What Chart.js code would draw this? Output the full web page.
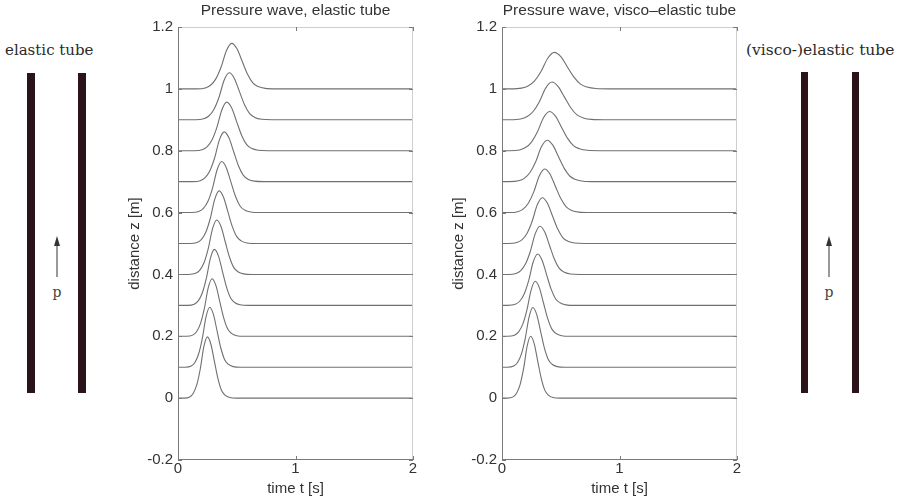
<!DOCTYPE html>
<html>
<head>
<meta charset="utf-8">
<script src="https://cdn.jsdelivr.net/npm/chart.js@4.4.0/dist/chart.umd.min.js"></script>
<style>
    body { margin: 0; background: #fff; }
    #page { position: relative; width: 904px; height: 503px; overflow: hidden; background: #fff; }
    canvas { position: absolute; top: 0; }
    .tubeLabel { position: absolute; font-family: "DejaVu Serif", "Liberation Serif", serif; font-size: 15px; color: #2a2a2a; white-space: nowrap; }
    .bar { position: absolute; background: #2b1419; }
    svg { position: absolute; left: 0; top: 0; }
</style>
</head>
<body>
<div id="page">
    <div class="tubeLabel" style="left:5px; top:41px;">elastic tube</div>
    <div class="bar" style="left:27px; top:73px; width:8px; height:320px;"></div>
    <div class="bar" style="left:78px; top:73px; width:8px; height:320px;"></div>

    <div class="tubeLabel" style="left:746px; top:41px; font-size:15.5px;">(visco-)elastic tube</div>
    <div class="bar" style="left:801px; top:72px; width:7px; height:321px;"></div>
    <div class="bar" style="left:852px; top:72px; width:7px; height:321px;"></div>

    <svg width="904" height="503">
        <line x1="57" y1="244" x2="57" y2="277" stroke="#555" stroke-width="1.2"/>
        <polygon points="57,236 54,246 60,246" fill="#333"/>
        <text x="57" y="297" text-anchor="middle" font-family="DejaVu Serif, serif" font-size="14" fill="#444">p</text>
        <line x1="829" y1="244" x2="829" y2="277" stroke="#555" stroke-width="1.2"/>
        <polygon points="829,236 826,246 832,246" fill="#333"/>
        <text x="829" y="297" text-anchor="middle" font-family="DejaVu Serif, serif" font-size="14" fill="#444">p</text>
    </svg>

    <canvas id="elasticChart" width="296" height="503" style="left:124px;"></canvas>
    <canvas id="viscoChart" width="296" height="503" style="left:448px;"></canvas>
</div>

<script>
// positions along the tube (baseline of each trace)
const zPositions = [0, 0.1, 0.2, 0.3, 0.4, 0.5, 0.6, 0.7, 0.8, 0.9, 1.0];

// elastic tube: peak time [s], pulse height, relative width
const elasticPeakTimes = [0.250, 0.270, 0.290, 0.310, 0.330, 0.350, 0.372, 0.393, 0.415, 0.436, 0.457];
const elasticAmplitudes = [0.198, 0.194, 0.186, 0.181, 0.176, 0.170, 0.165, 0.161, 0.157, 0.152, 0.147];
const elasticWidths = [1.00, 1.05, 1.10, 1.15, 1.20, 1.25, 1.30, 1.35, 1.40, 1.45, 1.50];

// visco-elastic tube
const viscoPeakTimes = [0.244, 0.263, 0.283, 0.303, 0.323, 0.343, 0.363, 0.384, 0.404, 0.425, 0.445];
const viscoAmplitudes = [0.200, 0.193, 0.178, 0.166, 0.156, 0.148, 0.141, 0.134, 0.127, 0.122, 0.118];
const viscoWidths = [1.00, 1.09, 1.18, 1.27, 1.36, 1.45, 1.53, 1.62, 1.70, 1.78, 1.86];

// pulse profile of the first trace: time offset from peak [s] and fraction of peak height
const pulseOffsets = [-0.20, -0.15, -0.12, -0.09, -0.06, -0.03, 0, 0.03, 0.06, 0.09, 0.12, 0.15, 0.19, 0.25];
const pulseShape = [0, 0.02, 0.08, 0.22, 0.48, 0.84, 1, 0.88, 0.60, 0.32, 0.13, 0.05, 0.01, 0];

const yTicks = [-0.2, 0, 0.2, 0.4, 0.6, 0.8, 1, 1.2];
const xTicks = [0, 1, 2];

function buildTrace(z, t0, amp, w) {
    const pts = [{ x: 0, y: z }];
    pulseOffsets.forEach((o, i) => pts.push({ x: t0 + o * w, y: z + amp * pulseShape[i] }));
    pts.push({ x: 2, y: z });
    return pts;
}

// frame on top/right plus inward ticks, MATLAB style
const framePlugin = {
    id: "frame",
    afterDatasetsDraw(chart) {
        const { ctx, chartArea: a, scales } = chart;
        ctx.save();
        ctx.lineWidth = 1;
        ctx.strokeStyle = "#cfcfcf";
        ctx.beginPath();
        ctx.moveTo(a.left, a.top + 0.5); ctx.lineTo(a.right, a.top + 0.5);
        ctx.moveTo(a.right - 0.5, a.top); ctx.lineTo(a.right - 0.5, a.bottom);
        ctx.stroke();
        ctx.strokeStyle = "#7a7a7a";
        ctx.beginPath();
        ctx.moveTo(a.left + 0.5, a.top); ctx.lineTo(a.left + 0.5, a.bottom);
        ctx.moveTo(a.left, a.bottom - 0.5); ctx.lineTo(a.right, a.bottom - 0.5);
        yTicks.forEach(v => {
            const y = Math.round(scales.y.getPixelForValue(v)) + 0.5;
            ctx.moveTo(a.left, y); ctx.lineTo(a.left + 4, y);
            ctx.moveTo(a.right, y); ctx.lineTo(a.right - 4, y);
        });
        xTicks.forEach(v => {
            const x = Math.round(scales.x.getPixelForValue(v)) + 0.5;
            ctx.moveTo(x, a.bottom); ctx.lineTo(x, a.bottom - 4);
            ctx.moveTo(x, a.top); ctx.lineTo(x, a.top + 4);
        });
        ctx.stroke();
        ctx.restore();
    }
};

function drawChart(canvasId, title, peakTimes, amps, widths) {
    const datasets = zPositions.map((z, i) => ({
        data: buildTrace(z, peakTimes[i], amps[i], widths[i]),
        borderColor: "#707070",
        borderWidth: 1.1,
        pointRadius: 0,
        cubicInterpolationMode: "monotone",
        fill: false
    }));

    const font = { family: "'Liberation Sans', Arial, sans-serif", size: 15 };

    return new Chart(document.getElementById(canvasId), {
        type: "line",
        data: { datasets },
        plugins: [framePlugin],
        options: {
            responsive: false,
            animation: false,
            layout: { padding: { right: 7 } },
            plugins: {
                legend: { display: false },
                tooltip: { enabled: false },
                title: {
                    display: true,
                    fullSize: false,
                    text: title,
                    color: "#333",
                    font: { ...font, size: 15.5, weight: "normal" },
                    padding: { top: 1, bottom: 7.4 }
                }
            },
            scales: {
                x: {
                    type: "linear",
                    min: 0, max: 2,
                    afterBuildTicks: s => { s.ticks = xTicks.map(v => ({ value: v })); },
                    afterFit: s => { s.height = 43; },
                    grid: { display: false, drawTicks: false },
                    border: { display: false },
                    ticks: { color: "#333", font, padding: 0, maxRotation: 0 },
                    title: { display: true, text: "time t [s]", color: "#333", font, padding: { top: 0, bottom: 5 } }
                },
                y: {
                    type: "linear",
                    min: -0.2, max: 1.2,
                    afterBuildTicks: s => { s.ticks = yTicks.map(v => ({ value: v })); },
                    afterFit: s => { s.width = 54; },
                    grid: { display: false, drawTicks: false },
                    border: { display: false },
                    ticks: {
                        color: "#333", font, padding: 5,
                        callback: v => String(Math.round(v * 10) / 10)
                    },
                    title: { display: true, text: "distance z [m]", color: "#333", font, padding: { top: 2, bottom: 4 } }
                }
            }
        }
    });
}

drawChart("elasticChart", "Pressure wave, elastic tube", elasticPeakTimes, elasticAmplitudes, elasticWidths);
drawChart("viscoChart", "Pressure wave, visco\u2013elastic tube", viscoPeakTimes, viscoAmplitudes, viscoWidths);
</script>
</body>
</html>
